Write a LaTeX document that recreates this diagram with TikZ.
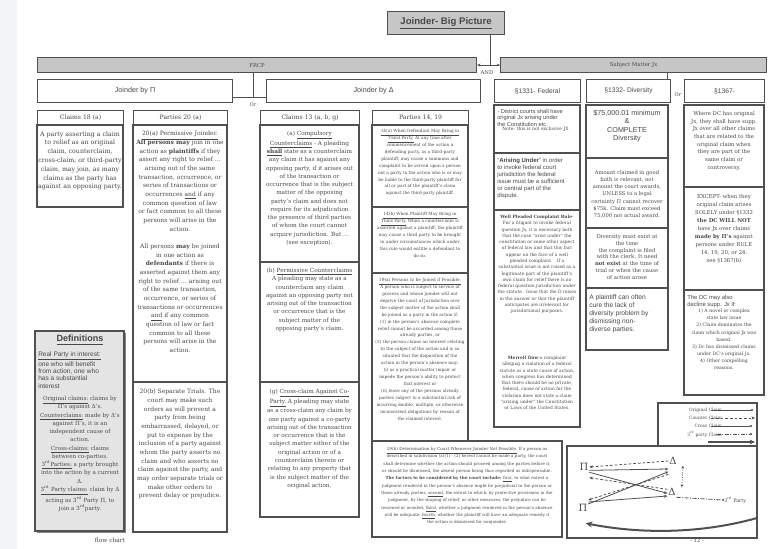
\documentclass[tikz,border=0pt]{standalone}
\usepackage{fontspec}
\setmainfont{DejaVu Serif}
\setsansfont{Liberation Sans}
\usetikzlibrary{arrows.meta}
\definecolor{barfill}{HTML}{C6C6C6}
\definecolor{frame}{HTML}{505050}
\definecolor{ink}{HTML}{484848}
\definecolor{deffill}{HTML}{E4E4E4}
\definecolor{strip}{HTML}{F3F4F8}
\newcommand\fz[2]{\fontsize{#1}{#2}\selectfont}
\begin{document}
\begin{tikzpicture}[x=0.75pt,y=-0.75pt,
  frm/.style={draw=frame,line width=0.85pt},
  bar/.style={frm,fill=barfill,inner sep=0pt,anchor=north west,text=ink},
  hdr/.style={frm,fill=white,inner sep=0pt,anchor=north west,text=ink},
  sz/.style 2 args={minimum width=#1*0.75pt,minimum height=#2*0.75pt},
  tx/.style={anchor=north,align=center,inner sep=0pt,text=ink},
  txl/.style={anchor=north west,align=left,inner sep=0pt,text=ink},
  lnk/.style={draw=frame,line width=0.6pt},
  orig/.style={draw=frame,line width=0.6pt,-{Stealth[length=2.6pt,width=2.2pt]}},
  cntr/.style={draw=frame,line width=0.6pt,dashed,dash pattern=on 2pt off 1.5pt,-{Stealth[length=2.6pt,width=2.2pt]}},
  crs/.style={draw=frame,line width=0.6pt,dash pattern=on 0.6pt off 1.2pt,{Stealth[length=2.4pt,width=2pt]}-{Stealth[length=2.4pt,width=2pt]}},
  trd/.style={draw=frame,line width=0.6pt,dash pattern=on 3pt off 1.2pt on 0.6pt off 1.2pt}]
\useasboundingbox (0,0) rectangle (768,549);
\fill[white] (0,0) rectangle (768,549);
\fill[strip] (0,0) rectangle (17,549);

% ---------- top ----------
\node[bar,sz={117}{23},font=\sffamily\bfseries\fz{7.2}{8}] (title) at (387,11) {\underline{Joinder- Big Picture}};
\node[bar,sz={439}{15},font=\fz{4}{5}] (frcp) at (37,57) {FRCP};
\node[bar,sz={266}{15},font=\fz{4}{5}] (smj) at (500,57) {Subject Matter Jx};
\path (frcp.east) -- (smj.west) coordinate[midway] (andmid);
\draw[lnk,{Stealth[length=2.4pt,width=2.2pt]}-{Stealth[length=2.4pt,width=2.2pt]}] (frcp.east) -- (smj.west);
\draw[draw=frame,line width=0.5pt,double=white,double distance=2pt] (andmid |- title.south) -- (andmid);
\node[font=\fz{4}{5},text=ink,inner sep=0pt] (andlbl) at (487,73) {AND};

\node[hdr,sz={195}{23},font=\sffamily\fz{5.4}{6}] (jpi) at (37,79) {Joinder by Π};
\node[hdr,sz={214}{23},font=\sffamily\fz{5.4}{6}] (jdl) at (266,79) {Joinder by Δ};
\coordinate (orpt) at (253,97);
\draw[lnk] (frcp.south -| orpt) -- (orpt);
\draw[lnk] (jpi.east |- orpt) -- (jdl.west |- orpt);
\node[font=\fz{3.8}{4},text=ink,inner sep=0pt] (or1) at (253,105) {Or};

\node[hdr,sz={86}{23},font=\sffamily\fz{5}{6}] (h1331) at (494,79) {§1331- Federal};
\node[hdr,sz={84}{23},font=\sffamily\fz{5}{6}] (h1332) at (586,79) {§1332- Diversity};
\node[hdr,sz={80}{23},font=\sffamily\fz{5}{6}] (h1367) at (684,79) {§1367-};
\draw[lnk] ([xshift=-3pt]smj.south -| h1332.north east) -- ([xshift=-3pt]h1332.north east);
\node[font=\fz{3.8}{4},text=ink,inner sep=0pt] (or2) at (678,95) {Or};

% ---------- Claims 18 ----------
\node[hdr,sz={86}{15},font=\fz{4.6}{5}] (h18) at (37,110) {Claims 18 (a)};
\draw[frm] (37,125) rectangle (123,207);
\node[tx,font=\fz{4.7}{6.6}] (t18) at (80,131) {A party asserting a claim\\ to relief as an original\\ claim, counterclaim,\\ cross-claim, or third-party\\ claim, may join, as many\\ claims as the party has\\ against an opposing party.};

% ---------- Parties 20 ----------
\node[hdr,sz={94}{15},font=\fz{4.6}{5}] (h20) at (133,110) {Parties 20 (a)};
\draw[frm] (133,125) rectangle (227,532);
\draw[frm] (133,382) -- (227,382);
\node[tx,font=\fz{4.5}{6.5}] (t20a) at (180,131) {\underline{20(a) Permissive Joinder.}\\ \textbf{All persons may} join in one\\ action as \textbf{plaintiffs} if they\\ assert any right to relief …\\ arising out of the same\\ transaction, occurrence, or\\ series of transactions or\\ occurrences \underline{and} if any\\ common question of law\\ or fact common to all these\\ persons will arise in the\\ action.\\[6.5pt] All persons \textbf{may} be joined\\ in one action as\\ \textbf{defendants} if there is\\ asserted against them any\\ right to relief … arising out\\ of the same transaction,\\ occurrence, or series of\\ transactions or occurrences\\ \underline{and} if any common\\ question of law or fact\\ common to all these\\ persons will arise in the\\ action.};
\node[tx,font=\fz{4.5}{6.5}] (t20b) at (180,389) {20(b) Separate Trials. The\\ court may make such\\ orders as will prevent a\\ party from being\\ embarrassed, delayed, or\\ put to expense by the\\ inclusion of a party against\\ whom the party asserts no\\ claim and who asserts no\\ claim against the party, and\\ may order separate trials or\\ make other orders to\\ prevent delay or prejudice.};

% ---------- Definitions ----------
\fill[frame!70] (37,333) rectangle (126,533);
\draw[frm,fill=deffill] (35,331) rectangle (124,531);
\node[tx,font=\sffamily\bfseries\fz{6.8}{7.5}] (defh) at (80,335) {\underline{Definitions}};
\node[txl,font=\sffamily\fz{4.9}{5.5}] (defs1) at (38,351) {\underline{Real Party in interest:}\\ one who will benefit\\ from action, one who\\ has a substantial\\ interest};
\node[tx,font=\fz{4.2}{6.2}] (defs2) at (80,396) {\underline{Original claims:} claims by\\ Π's against Δ's.\\ \underline{Counterclaims:} made by Δ's\\ against Π's, it is an\\ independent cause of\\ action.\\ \underline{Cross-claims:} claims\\ between co-parties.\\ \underline{3\textsuperscript{rd}Parties:} a party brought\\ into the action by a current\\ Δ.\\ \underline{3\textsuperscript{rd} Party claims:} claim by Δ\\ acting as 3\textsuperscript{rd} Party Π, to\\ join a 3\textsuperscript{rd}party.};
\node[font=\fz{4.4}{5},text=ink,inner sep=0pt] (flow) at (110,540) {flow chart};

% ---------- Claims 13 ----------
\node[hdr,sz={99}{15},font=\fz{4.6}{5}] (h13) at (260,110) {Claims 13 (a, b, g)};
\draw[frm] (260,125) rectangle (359,517);
\draw[frm] (260,262) -- (359,262);
\draw[frm] (260,382) -- (359,382);
\node[tx,font=\fz{4.3}{6.2}] (t13a) at (309.5,131) {(a) \underline{Compulsory}\\ \underline{Counterclaims} - A pleading\\ \underline{\textbf{shall}} state as a counterclaim\\ any claim it has against any\\ opposing party, if it arises out\\ of the transaction or\\ occurrence that is the subject\\ matter of the opposing\\ party's claim and does not\\ require for its adjudication\\ the presence of third parties\\ of whom the court cannot\\ acquire jurisdiction. But …\\ (see exception).};
\node[tx,font=\fz{4.3}{6.2}] (t13b) at (309.5,268) {(b) \underline{Permissive Counterclaims}\\ A pleading may state as a\\ counterclaim any claim\\ against an opposing party not\\ arising out of the transaction\\ or occurrence that is the\\ subject matter of the\\ opposing party's claim.};
\node[tx,font=\fz{4.3}{6.2}] (t13g) at (309.5,389) {(g) \underline{Cross-claim Against Co-}\\ \underline{Party.} A pleading may state\\ as a cross-claim any claim by\\ one party against a co-party\\ arising out of the transaction\\ or occurrence that is the\\ subject matter either of the\\ original action or of a\\ counterclaim therein or\\ relating to any property that\\ is the subject matter of the\\ original action.};

% ---------- Parties 14, 19 ----------
\node[hdr,sz={96}{15},font=\fz{4.6}{5}] (h14) at (372,110) {Parties 14, 19};
\draw[frm] (372,125) rectangle (468,441);
\draw[frm] (372,207) -- (468,207);
\draw[frm] (372,273) -- (468,273);
\node[tx,font=\fz{3.2}{5.2}] (t14a) at (420,129) {\underline{14(a) When Defendant May Bring in}\\ \underline{Third Party.} At any time after\\ commencement of the action a\\ defending party, as a third-party\\ plaintiff, may cause a summons and\\ complaint to be served upon a person\\ not a party to the action who is or may\\ be liable to the third-party plaintiff for\\ all or part of the plaintiff's claim\\ against the third-party plaintiff.};
\node[tx,font=\fz{3.2}{5.2}] (t14b) at (420,212) {\underline{14(b) When Plaintiff May Bring in}\\ \underline{Third Party.} When a counterclaim is\\ asserted against a plaintiff, the plaintiff\\ may cause a third party to be brought\\ in under circumstances which under\\ this rule would entitle a defendant to\\ do so.};
\node[tx,font=\fz{3.2}{5.2}] (t19a) at (420,278) {\underline{19(a) Persons to be Joined if Feasible.}\\ A person who is subject to service of\\ process and whose joinder will not\\ deprive the court of jurisdiction over\\ the subject matter of the action shall\\ be joined as a party in the action if:\\ (1) in the person's absence complete\\ relief cannot be accorded among those\\ already parties, or\\ (2) the person claims an interest relating\\ to the subject of the action and is so\\ situated that the disposition of the\\ action in the person's absence may:\\ (i) as a practical matter impair or\\ impede the person's ability to protect\\ that interest or\\ (ii) leave any of the persons already\\ parties subject to a substantial risk of\\ incurring double, multiple, or otherwise\\ inconsistent obligations by reason of\\ the claimed interest.};
\draw[frm] (372,441) rectangle (562,537);
\node[tx,font=\fz{3.1}{5.5}] (t19b) at (467,447) {\underline{19(b) Determination by Court Whenever Joinder Not Feasible.} If a person as\\ described in subdivision (a)(1) - (2) hereof cannot be made a party, the court\\ shall determine whether the action should proceed among the parties before it,\\ or should be dismissed, the absent person being thus regarded as indispensable.\\ \textbf{The factors to be considered by the court include:} \underline{first}, to what extent a\\ judgment rendered in the person's absence might be prejudicial to the person or\\ those already parties, \underline{second}, the extent to which, by protective provisions in the\\ judgment, by the shaping of relief, or other measures, the prejudice can be\\ lessened or avoided; \underline{third}, whether a judgment rendered in the person's absence\\ will be adequate; \underline{fourth}, whether the plaintiff will have an adequate remedy if\\ the action is dismissed for nonjoinder.};

% ---------- 1331 ----------
\draw[frm] (494,105) rectangle (580,427);
\draw[frm] (494,153) -- (580,153);
\draw[frm] (494,210) -- (580,210);
\node[txl,font=\sffamily\fz{4.3}{4.9}] (f1) at (497,109) {- District courts shall have\\ original Jx arising under\\ the Constitution etc.};
\node[txl,font=\fz{3.4}{4}] (f1n) at (502,127) {Note: this is not exclusive JX};
\node[txl,font=\sffamily\fz{4.5}{5.2}] (f2) at (497,158) {“\textbf{Arising Under}” in order\\ to invoke federal court\\ jurisdiction the federal\\ issue must be a sufficient\\ or central part of the\\ dispute.};
\node[tx,font=\fz{3.3}{4.7}] (f3) at (537,215) {\textbf{Well Pleaded Complaint Rule}-\\ For a litigant to invoke federal\\ question Jx, it is necessary both\\ that the case “arise under” the\\ constitution or some other aspect\\ of federal law and that this fact\\ appear on the face of a well\\ pleaded complaint.\quad If a\\ substantial issue is not raised as a\\ legitimate part of the plaintiff's\\ own claim for relief there is no\\ federal question jurisdiction under\\ the statute.\ \ Issue that the D raises\\ in the answer or that the plaintiff\\ anticipates are irrelevant for\\ jurisdictional purposes.};
\node[tx,font=\fz{3.3}{4.7}] (f4) at (537,356) {\textbf{Merrell Dow}-a complaint\\ alleging a violation of a federal\\ statute as a state cause of action,\\ when congress has determined\\ that there should be no private,\\ federal, cause of action for the\\ violation does not state a claim\\ “arising under” the Constitution\\ or Laws of the United States.};

% ---------- 1332 ----------
\draw[frm] (586,105) rectangle (668,350);
\draw[frm] (586,158) -- (668,158);
\draw[frm] (586,228) -- (668,228);
\draw[frm] (586,288) -- (668,288);
\node[tx,font=\sffamily\fz{5.4}{6.3}] (g1) at (627,110) {\$75,000.01 minimum\\ \&\\ COMPLETE\\ Diversity};
\node[tx,font=\fz{3.9}{5.4}] (g2) at (627,170) {Amount claimed in good\\ faith is relevant, not\\ amount the court awards,\\ UNLESS to a legal\\ certainty Π cannot recover\\ \$75k. Claim must exceed\\ 75,000 not actual award.};
\node[tx,font=\fz{4}{5.2}] (g3) at (627,234) {Diversity must exist at\\ the time\\ the complaint is filed\\ with the clerk. It need\\ \textbf{not exist} at the time of\\ trial or when the cause\\ of action arose};
\node[txl,font=\sffamily\fz{5}{6.1}] (g4) at (589,294) {A plaintiff can often\\ cure the lack of\\ diversity problem by\\ dismissing non-\\ diverse parties.};

% ---------- 1367 ----------
\draw[frm] (684,105) rectangle (764,395);
\draw[frm] (684,187) -- (764,187);
\draw[frm] (684,290) -- (764,290);
\node[tx,font=\fz{4}{5.8}] (s1) at (724,111) {Where DC has original\\ Jx, they shall have supp.\\ Jx over all other claims\\ that are related to the\\ original claim when\\ they are part of the\\ same claim or\\ controversy.};
\node[tx,font=\fz{4}{6}] (s2) at (724,194) {EXCEPT- when they\\ original claim arises\\ SOLELY under §1332\\ \textbf{the DC WILL NOT}\\ have Jx over claims\\ \textbf{made by Π's} against\\ persons under RULE\\ 14, 19, 20, or 24.\\ see §1367(b)};
\node[txl,font=\sffamily\fz{4.4}{4.9}] (s3) at (687,295) {The DC may also\\ decline supp. Jx if:};
\node[tx,font=\fz{3.5}{5.3}] (s4) at (724,309) {1) A novel or complex\\ state law issue\\ 2) Claim dominates the\\ claim which original Jx was\\ based.\\ 3) Dc has dismissed claims\\ under DC's original Jx.\\ 4) Other compelling\\ reasons.};

% ---------- legend ----------
\draw[frm] (658,403) rectangle (757,446);
\node[anchor=east,font=\fz{3.3}{4},text=ink,inner sep=0pt] (lg1) at (722,410) {Original Claim};
\node[anchor=east,font=\fz{3.3}{4},text=ink,inner sep=0pt] (lg2) at (722,418) {Counter Claim};
\node[anchor=east,font=\fz{3.3}{4},text=ink,inner sep=0pt] (lg3) at (722,426) {Cross Claim};
\node[anchor=east,font=\fz{3.3}{4},text=ink,inner sep=0pt] (lg4) at (722,434) {3\textsuperscript{rd} party Claim};
\coordinate (le1) at (753,410); \coordinate (le2) at (755,418); \coordinate (le3) at (752,426); \coordinate (le4) at (752,434);
\coordinate (ls5) at (708,442); \coordinate (le5) at (755,442);
\draw[lnk,-{Circle[length=1.5pt]}] ([xshift=-8pt]lg1.east) -- (le1);
\draw[lnk,dash pattern=on 2pt off 1.5pt,-{Stealth[length=2.6pt,width=2.4pt]}] ([xshift=-8pt]lg2.east) -- (le2);
\draw[lnk,-{Circle[length=1.5pt]}] ([xshift=-8pt]lg3.east) -- (le3);
\draw[lnk,dash pattern=on 3pt off 1.2pt on 0.6pt off 1.2pt,-{Circle[length=1.5pt]}] ([xshift=-4pt]lg4.east) -- (le4);
\draw[draw=frame,line width=1.3pt,-{Stealth[length=4pt,width=3.5pt]}] (ls5) -- (le5);

% ---------- party diagram ----------
\draw[frm] (567,446) rectangle (757,538);
\node[font=\fz{7.5}{8},text=ink,inner sep=0.5pt] (p1) at (584,467) {Π};
\node[font=\fz{7.5}{8},text=ink,inner sep=0.5pt] (p2) at (583,508) {Π};
\node[font=\fz{7.5}{8},text=ink,inner sep=0.5pt] (d1) at (673,461) {Δ};
\node[font=\fz{7.5}{8},text=ink,inner sep=0.5pt] (d2) at (672,492) {Δ};
\node[font=\fz{3.6}{4},text=ink,inner sep=0pt,anchor=west] (tp) at (724,500) {3\textsuperscript{rd} Party};
\draw[cntr] (d1.west) -- (p1.east);
\draw[orig] ([yshift=-2.5pt]p1.east) -- ([yshift=-6pt]d1.west);
\draw[orig] ([yshift=-4pt]p1.east) -- ([yshift=-1pt]d2.west);
\draw[orig] ([yshift=3pt]p2.east) -- ([yshift=-8pt]d1.west);
\draw[orig] ([yshift=4.5pt]p2.east) -- ([yshift=-3pt]d2.west);
\draw[cntr] ([yshift=2pt]d2.west) -- ([yshift=-8pt]p1.east);
\draw[cntr] ([yshift=-10pt]d1.west) -- ([yshift=6pt]p2.east);
\draw[crs] ([xshift=4pt]d1.south east) -- ([xshift=4pt]d2.north east);
\draw[trd,-{Circle[length=1.3pt]}] ([yshift=-4pt]d2.east) -- (tp.west);
\coordinate (thk) at (757,518);
\draw[draw=frame,line width=1.5pt,-{Stealth[length=5pt,width=4.5pt]}] (thk) .. controls (700,534) and (640,534) .. ([yshift=-8pt,xshift=2pt]p2.south);
\node[font=\fz{4}{5},text=ink,inner sep=0pt] (pg) at (697,541) {- 12 -};
\end{tikzpicture}
\end{document}
